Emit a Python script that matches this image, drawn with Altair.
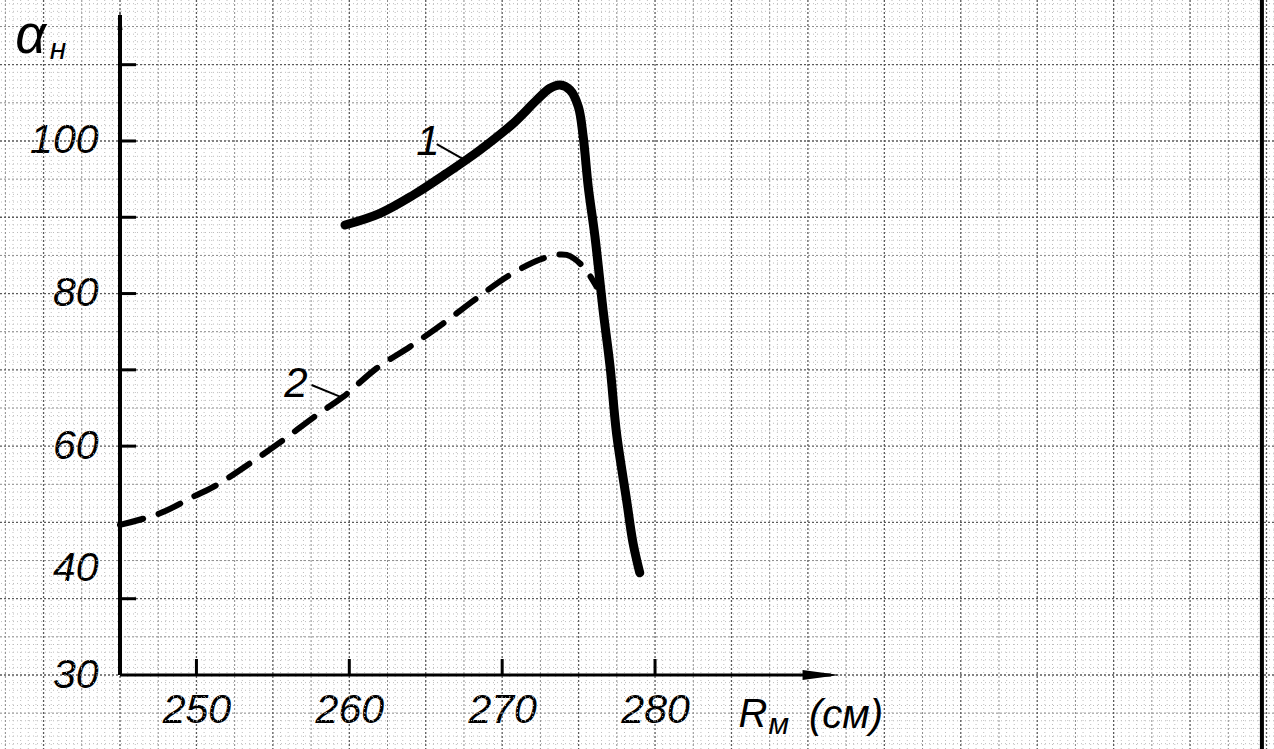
import altair as alt
import pandas as pd

# ---------------- data ----------------
# curve 1 (solid)
curve1_r = [259.72, 262.01, 264.19, 266.37, 268.55, 270.73, 272.26, 273.13, 273.78, 274.44,
            274.98, 275.30, 275.63, 276.07, 276.60, 277.06, 277.48, 278.14, 278.56, 279.0]
curve1_a = [88.99, 90.52, 92.92, 95.77, 98.82, 102.32, 105.37, 106.91, 107.34, 106.68,
            104.50, 100.56, 94.01, 87.46, 77.85, 70.4, 61.7, 52.9, 47.3, 43.4]

# curve 2 (dashed)
curve2_r = [245.0, 247.62, 249.80, 251.33, 253.50, 255.68, 257.87, 259.61, 261.79, 263.97,
            266.15, 268.33, 270.51, 272.69, 274.22, 275.30, 276.18]
curve2_a = [49.67, 51.20, 53.38, 54.91, 57.75, 60.81, 64.08, 66.48, 70.21, 73.04,
            76.10, 79.38, 82.44, 84.62, 85.06, 83.52, 80.90]

x_tick_labels = [250, 260, 270, 280]
y_tick_labels = [30, 40, 60, 80, 100]
x_tick_marks = [250, 260, 270, 280]
y_tick_marks = [40, 60, 70, 80, 90, 100, 110]

curve_names = ["1", "2"]
curve_name_r = [265.15, 256.50]
curve_name_a = [99.9, 68.2]
leader_r = [265.72, 257.53]
leader_r2 = [267.57, 259.39]
leader_a = [99.6, 68.02]
leader_a2 = [97.5, 66.48]

# ---------------- scales / axes ----------------
X_DOM = [237.15, 320.49]
Y_DOM = [20.30, 118.48]
FONT = "Liberation Sans"

xs = alt.Scale(domain=X_DOM, nice=False, zero=False)
ys = alt.Scale(domain=Y_DOM, nice=False, zero=False)

x_axis = alt.Axis(values=x_tick_labels, offset=-74, domain=False, ticks=False, tickSize=0,
                  grid=False, labelFont=FONT, labelFontStyle="italic", labelFontSize=41,
                  labelColor="black", labelPadding=15, labelFlush=False, labelOverlap=False)
y_axis = alt.Axis(values=y_tick_labels, offset=-120, domain=False, ticks=False, tickSize=0,
                  grid=False, labelFont=FONT, labelFontStyle="italic", labelFontSize=41,
                  labelColor="black", labelPadding=22, labelFlush=False, labelOverlap=False,
                  labelOffset={"condition": {"test": "datum.value == 40", "value": -30}, "value": 0})


def X(f):
    return alt.X(f, type="quantitative", scale=xs, axis=x_axis, title=None)


def Y(f):
    return alt.Y(f, type="quantitative", scale=ys, axis=y_axis, title=None)


# ---------------- graph paper ----------------
grid_x = [v / 2 for v in range(475, 642)]
grid_y = list(range(21, 119))


def level_x(v):
    if v % 5 == 0:
        return 2
    if v % 2.5 == 0:
        return 1
    return 0


def level_y(v):
    if v % 10 == 0:
        return 2
    if v % 5 == 0:
        return 1
    return 0


styles = {0: ("#bdbdbd", 1, [1, 3]), 1: ("#8a8a8a", 1, [2, 2]), 2: ("#5a5a5a", 1.3, [2, 2])}

layers = []
for lev in (0, 1, 2):
    col, w, dash = styles[lev]
    vx = [v for v in grid_x if level_x(v) == lev]
    vy = [v for v in grid_y if level_y(v) == lev]
    layers.append(alt.Chart(pd.DataFrame({"x": vx})).mark_rule(
        color=col, strokeWidth=w, strokeDash=dash).encode(x=X("x")))
    layers.append(alt.Chart(pd.DataFrame({"y": vy})).mark_rule(
        color=col, strokeWidth=w, strokeDash=dash).encode(y=Y("y")))

# right border of the sheet
layers.append(alt.Chart(pd.DataFrame({"x": [319.7]})).mark_rule(
    color="black", strokeWidth=4).encode(x=X("x")))

# ---------------- axes lines, ticks, arrows ----------------
axis_df = pd.DataFrame({"x": [245, 245], "x2": [291.5, 245], "y": [30, 30], "y2": [30, 116.5],
                        "w": [3, 4]})
layers.append(alt.Chart(axis_df).mark_rule(color="black").encode(
    x=X("x"), x2="x2", y=Y("y"), y2="y2", strokeWidth=alt.StrokeWidth("w", scale=None)))

xt = pd.DataFrame({"x": x_tick_marks, "y": [30] * len(x_tick_marks), "y2": [32.1] * len(x_tick_marks)})
layers.append(alt.Chart(xt).mark_rule(color="black", strokeWidth=3).encode(
    x=X("x"), y=Y("y"), y2="y2"))
yt = pd.DataFrame({"y": y_tick_marks, "x": [245] * len(y_tick_marks), "x2": [246.05] * len(y_tick_marks)})
layers.append(alt.Chart(yt).mark_rule(color="black", strokeWidth=3).encode(
    x=X("x"), x2="x2", y=Y("y")))

layers.append(alt.Chart(pd.DataFrame({"x": [245], "y": [115.86]})).mark_point(
    shape="M0,-1L0.25,1L-0.25,1Z", filled=True, color="black", opacity=1, size=400
).encode(x=X("x"), y=Y("y")))
layers.append(alt.Chart(pd.DataFrame({"x": [290.86], "y": [30]})).mark_point(
    shape="M1,0L-1,-0.27L-1,0.27Z", filled=True, color="black", opacity=1, size=1369
).encode(x=X("x"), y=Y("y")))

# ---------------- curves ----------------
layers.append(alt.Chart(pd.DataFrame({"r": curve2_r, "a": curve2_a})).mark_line(
    color="black", strokeWidth=6, strokeCap="round", strokeDash=[24, 16], interpolate="catmull-rom"
).encode(x=X("r"), y=Y("a")))
layers.append(alt.Chart(pd.DataFrame({"r": curve1_r, "a": curve1_a})).mark_line(
    color="black", strokeWidth=9, strokeCap="round", strokeJoin="round", interpolate="catmull-rom"
).encode(x=X("r"), y=Y("a")))

# ---------------- annotations ----------------
lead = pd.DataFrame({"x": leader_r, "x2": leader_r2, "y": leader_a, "y2": leader_a2})
layers.append(alt.Chart(lead).mark_rule(color="black", strokeWidth=2).encode(
    x=X("x"), x2="x2", y=Y("y"), y2="y2"))
layers.append(alt.Chart(pd.DataFrame({"t": curve_names, "x": curve_name_r, "y": curve_name_a})).mark_text(
    font=FONT, fontStyle="italic", fontSize=42, color="black", align="center", baseline="middle"
).encode(x=X("x"), y=Y("y"), text="t"))


def label(txt, x, y, size):
    return alt.Chart(pd.DataFrame({"t": [txt], "x": [x], "y": [y]})).mark_text(
        font=FONT, fontStyle="italic", fontSize=size, color="black", align="center", baseline="middle"
    ).encode(x=X("x"), y=Y("y"), text="t")


layers.append(label("α", 239.15, 113.6, 54))
layers.append(label("н", 240.95, 111.93, 30))
layers.append(label("R", 286.41, 24.76, 40))
layers.append(label("м", 288.10, 23.45, 30))
layers.append(label("(см)", 292.49, 24.63, 40))

chart = alt.layer(*layers).properties(
    width=1274, height=749, autosize=alt.AutoSizeParams(type="none"), padding=0,
    background="white"
).configure_view(stroke=None)

chart.save("out.html", embed_options={"renderer": "svg", "actions": False})
